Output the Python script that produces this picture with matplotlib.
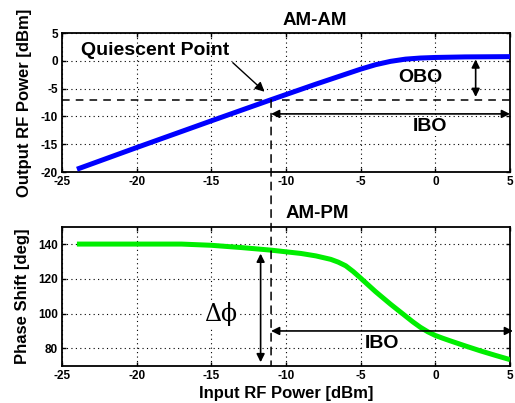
import matplotlib

matplotlib.use("Agg")
import matplotlib.pyplot as plt
from matplotlib.patches import ConnectionPatch

# AM-AM characteristic (input power vs output power, dBm)
am_in = [-24, -20, -15, -11, -8, -6, -5, -4, -3, -2, -1, 0, 2, 5]
am_out = [-19.5, -15.6, -10.8, -7.0, -4.2, -2.4, -1.5, -0.7, -0.1, 0.3, 0.5, 0.6, 0.7, 0.75]

# AM-PM characteristic (input power vs phase shift, deg)
pm_in = [-24, -20, -17, -15, -13, -11, -9, -8, -7, -6.5, -6, -5.5, -5, -4.5, -4, -3,
         -2, -1.5, -1, -0.5, 0, 0.5, 1, 2, 3, 4, 5]
pm_phase = [140, 140, 140, 139.3, 138, 136.5, 134.6, 133.2, 131.2, 129.6, 127.5, 124.2,
            120.4, 116.5, 112.6, 105.4, 98.6, 95.2, 92.1, 89.5, 87.4, 85.8, 84.3, 81.4,
            78.6, 76, 73.5]

q_in, q_out = -11, -7  # quiescent point
sat_out = 0.75
xticks = [-25, -20, -15, -10, -5, 0, 5]
am_yticks = [-20, -15, -10, -5, 0, 5]
pm_yticks = [80, 100, 120, 140]

plt.rcParams["font.family"] = ["Liberation Sans", "DejaVu Sans"]
plt.rcParams["font.weight"] = "bold"
plt.rcParams["axes.unicode_minus"] = False

W, H = 515, 403
fig = plt.figure(figsize=(W / 100, H / 100), dpi=100)
ax1 = fig.add_axes([62 / W, 1 - 172 / H, 448 / W, 139 / H])
ax2 = fig.add_axes([62 / W, 1 - 365.7 / H, 448 / W, 139 / H])

# --- AM-AM ---
ax1.plot(am_in, am_out, color="#0000ff", linewidth=3.6, solid_capstyle="butt", zorder=3)
ax1.set_ylim(-20, 5)
ax1.set_yticks(am_yticks)
ax1.axhline(q_out, color="black", linestyle=(0, (5, 4)), linewidth=1.1)
ax1.set_title("AM-AM", fontsize=13.5, fontweight="bold", x=0.564, pad=6)
ax1.set_ylabel("Output RF Power [dBm]", fontsize=12, fontweight="bold", labelpad=6)

ax1.text(-23.7, 1.9, "Quiescent Point", fontsize=14, fontweight="bold", va="center")
ax1.annotate("", xy=(-11.3, -5.9), xytext=(-13.7, 0),
             arrowprops=dict(arrowstyle="-|>", color="black", lw=1, mutation_scale=14))
ax1.annotate("", xy=(2.7, sat_out), xytext=(2.7, q_out),
             arrowprops=dict(arrowstyle="<|-|>", color="black", lw=1.2, mutation_scale=12))
ax1.text(-1.0, -3.0, "OBO", fontsize=14, fontweight="bold", ha="center", va="center")
ax1.annotate("", xy=(q_in, -9.55), xytext=(5, -9.55),
             arrowprops=dict(arrowstyle="<|-|>", color="black", lw=1.2, mutation_scale=12,
                             shrinkA=0, shrinkB=0))
ax1.text(-0.35, -11.85, "IBO", fontsize=14, fontweight="bold", ha="center", va="center",
         bbox=dict(facecolor="white", edgecolor="none", pad=0.5))

# --- AM-PM ---
ax2.plot(pm_in, pm_phase, color="#00ee00", linewidth=3.6, solid_capstyle="butt", zorder=3)
ax2.set_ylim(70, 150)
ax2.set_yticks(pm_yticks)
ax2.set_title("AM-PM", fontsize=13.5, fontweight="bold", x=0.57, pad=6)
ax2.set_ylabel("Phase Shift [deg]", fontsize=12, fontweight="bold", labelpad=6)
ax2.set_xlabel("Input RF Power [dBm]", fontsize=12, fontweight="bold", labelpad=3)

ax2.annotate("", xy=(-11.7, 134.5), xytext=(-11.7, 72),
             arrowprops=dict(arrowstyle="<|-|>", color="black", lw=1.2, mutation_scale=12,
                             shrinkA=0, shrinkB=0))
ax2.text(-14.4, 99.5, "\u0394\u03d5", fontsize=17, family="DejaVu Serif",
         fontweight="normal", ha="center", va="center",
         bbox=dict(facecolor="white", edgecolor="none", pad=0.5))
ax2.annotate("", xy=(q_in, 90), xytext=(5.2, 90), annotation_clip=False,
             arrowprops=dict(arrowstyle="<|-|>", color="black", lw=1.2, mutation_scale=12,
                             shrinkA=0, shrinkB=0))
ax2.text(-3.6, 83, "IBO", fontsize=14, fontweight="bold", ha="center", va="center",
         bbox=dict(facecolor="white", edgecolor="none", pad=0.5))

for ax in (ax1, ax2):
    ax.set_xlim(-25, 5)
    ax.set_xticks(xticks)
    ax.grid(True, color="black", linestyle=(0, (1, 3)), linewidth=0.8)
    ax.tick_params(direction="in", top=True, right=True, length=3, labelsize=8.5,
                   width=1, pad=3)
    for lbl in ax.get_xticklabels() + ax.get_yticklabels():
        lbl.set_fontweight("bold")
    for s in ax.spines.values():
        s.set_linewidth(1.3)

# dashed line from quiescent point down through both panels
con = ConnectionPatch(xyA=(q_in, q_out), coordsA=ax1.transData,
                      xyB=(q_in, 70), coordsB=ax2.transData,
                      color="black", linestyle=(0, (5, 4)), linewidth=1.1)
fig.add_artist(con)

fig.savefig("out.png", dpi=100)
